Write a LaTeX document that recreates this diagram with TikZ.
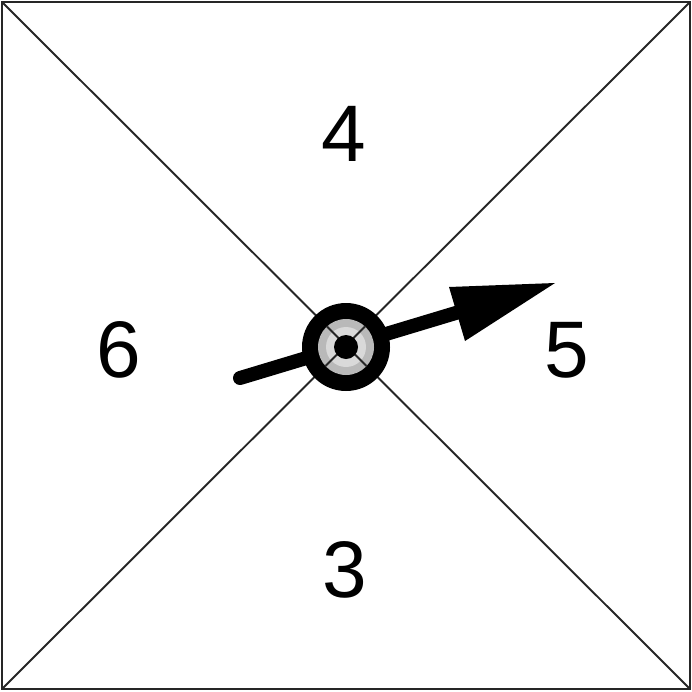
\documentclass[tikz,border=0pt]{standalone}
\usepackage{fontspec}
\setmainfont{Liberation Sans}
\begin{document}
\begin{tikzpicture}[x=0.01cm,y=-0.01cm,
  frame/.style={draw=black!85,line width=0.6pt},
  diag/.style={draw=black!85,line width=0.55pt},
  numlabel/.style={font=\fontsize{22.8}{26}\selectfont,inner sep=0pt,anchor=center},
  shaft/.style={line width=0.14cm,line cap=round,draw=black}]
\useasboundingbox (0,0) rectangle (692,691);
\coordinate (tl) at (2,2);
\coordinate (tr) at (690,2);
\coordinate (br) at (690,689);
\coordinate (bl) at (2,689);
\coordinate (c) at (346,347);
\draw[frame] (tl) -- (tr) -- (br) -- (bl) -- cycle;
\draw[diag] (tl) -- (br);
\draw[diag] (tr) -- (bl);
\node[numlabel] (n4) at (344,134) {4};
\node[numlabel] (n6) at (119,350) {6};
\node[numlabel] (n5) at (567,350) {5};
\node[numlabel] (n3) at (345,570) {3};
% pointer
\coordinate (tail) at (240,378);
\coordinate (hb) at (459,312);
\coordinate (tip) at (555,283);
\coordinate (hu) at (449,287);
\coordinate (hl) at (465,341);
\draw[shaft] (tail) -- (hb);
\fill[black] (tip) -- (hu) -- (hl) -- cycle;
% hub
\fill[black] (c) circle[radius=44];
\fill[gray!55] (c) circle[radius=28];
\fill[gray!30] (c) circle[radius=20];
\begin{scope}
\clip (c) circle[radius=28];
\draw[diag] (tl) -- (br);
\draw[diag] (tr) -- (bl);
\end{scope}
\fill[black] (c) circle[radius=12];
\end{tikzpicture}
\end{document}
